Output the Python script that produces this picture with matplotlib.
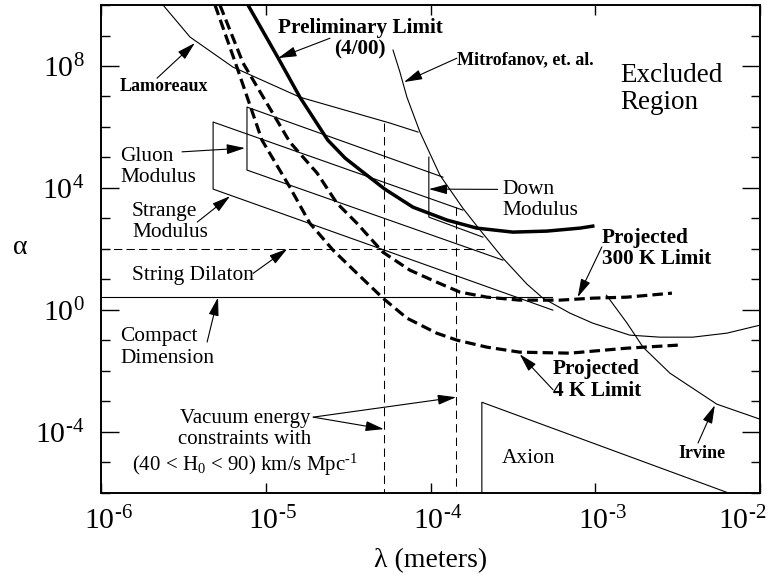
import matplotlib
matplotlib.use('Agg')
import matplotlib.pyplot as plt
from matplotlib.ticker import FixedLocator, NullFormatter, NullLocator
from matplotlib.transforms import ScaledTranslation

# wavelength lambda (m) and coupling alpha
lam_x = [2.38e-6, 3.47e-6, 6.32e-6, 1.61e-5, 5.68e-5, 8.4e-5]
lam_y = [1.0e10, 8.9e8, 9.2e7, 9.5e6, 1.34e6, 6.8e5]

mit_x = [5.92e-5, 6.52e-5, 7.19e-5, 8.63e-5, 1.14e-4, 1.57e-4, 2.0e-4, 2.75e-4,
         3.85e-4, 4.81e-4, 7.02e-4, 9.66e-4, 1.62e-3, 2.47e-3, 3.91e-3, 6.3e-3, 1.0e-2]
mit_y = [3.33e8, 6.32e7, 9.55e6, 6.8e5, 2.64e4, 2.18e3, 413, 49.8,
         6.97, 2.42, 0.78, 0.366, 0.148, 0.127, 0.127, 0.172, 0.315]

irv_x = [1.17e-3, 1.56e-3, 1.95e-3, 2.84e-3, 5.47e-3, 1.0e-2]
irv_y = [3.03, 0.366, 0.0597, 8.36e-3, 8.04e-4, 2.59e-4]

prelim_x = [7.8e-6, 1.19e-5, 1.61e-5, 2.38e-5, 3.03e-5, 3.89e-5, 5.28e-5, 7.82e-5,
            1.26e-4, 1.91e-4, 3.16e-4, 5.08e-4, 8.07e-4, 9.66e-4]
prelim_y = [1.0e10, 1.82e8, 9.57e6, 3.7e5, 9.53e4, 3.3e4, 9.14e3, 2.34e3,
            879, 480, 355, 383, 480, 558]

k4_x = [4.92e-6, 6.68e-6, 9.48e-6, 1.40e-5, 1.85e-5, 2.56e-5, 3.57e-5, 5.14e-5, 7.19e-5,
        1.09e-4, 1.45e-4, 2.2e-4, 3.48e-4, 7.02e-4, 9.66e-4, 1.56e-3, 3.17e-3]
k4_y = [1.0e10, 9.2e7, 3.7e5, 1.06e4, 700, 91, 16, 2.42, 0.535,
        0.172, 0.101, 0.0597, 0.0409, 0.0379, 0.0441, 0.0553, 0.0695]

k300_x = [5.27e-6, 7.28e-6, 1.40e-5, 2.05e-5, 2.7e-5, 3.57e-5, 5.14e-5, 7.5e-5,
          1.09e-4, 1.51e-4, 2.2e-4, 3.48e-4, 6.1e-4, 9.66e-4, 1.56e-3, 2.92e-3]
k300_y = [1.0e10, 1.25e8, 3.19e5, 3.06e4, 3.18e3, 700, 78, 20,
          8.1, 3.81, 2.61, 2.08, 2.08, 2.42, 2.61, 3.53]

# theory bands: top end -> top left -> bottom left -> bottom end
gluon_x = [1.19e-4, 7.69e-6, 7.69e-6, 2.75e-4]
gluon_y = [2.26e4, 4.49e6, 3.85e4, 42.8]
strange_x = [1.57e-4, 4.79e-6, 4.79e-6, 5.53e-4]
strange_y = [1.87e3, 1.45e6, 9.14e3, 0.977]
down_x = [9.77e-5, 9.77e-5, 2.08e-4]
down_y = [1.03e5, 1.1e3, 243]
axion_x = [2.05e-4, 2.05e-4, 6.38e-3]
axion_y = [1e-6, 9.3e-4, 1e-6]

dilaton_x = [1e-6, 2.23e-4]
dilaton_y = [100, 100]
compact_x = [1e-6, 5.5e-4]
compact_y = [2.55, 2.55]
vac_x = [5.21e-5, 1.43e-4]
vac_top = [1.34e6, 2.3e3]

# exponents drawn with a short hyphen, like the original
x_ticks = [1e-6, 1e-5, 1e-4, 1e-3, 1e-2]
x_tick_labels = ['$\\mathregular{10^{\u20106}}$', '$\\mathregular{10^{\u20105}}$',
                 '$\\mathregular{10^{\u20104}}$', '$\\mathregular{10^{\u20103}}$',
                 '$\\mathregular{10^{\u20102}}$']
y_ticks = [1e-4, 1e0, 1e4, 1e8]
y_tick_labels = ['$\\mathregular{10^{\u20104}}$', r'$\mathregular{10^{0}}$',
                 r'$\mathregular{10^{4}}$', r'$\mathregular{10^{8}}$']
y_minor = [10.0 ** e for e in range(-6, 11)]


def arrow(ax, head, tail):
    ax.annotate('', xy=head, xycoords='data', xytext=tail, textcoords='axes fraction',
                arrowprops=dict(arrowstyle='-|>,head_length=0.8,head_width=0.22',
                                color='k', lw=0.8, shrinkA=0, shrinkB=0, mutation_scale=14))


def main():
    plt.rcParams['font.family'] = ['Liberation Serif', 'DejaVu Serif']
    plt.rcParams['mathtext.fontset'] = 'custom'
    plt.rcParams['mathtext.rm'] = 'Liberation Serif'
    plt.rcParams['mathtext.it'] = 'Liberation Serif:italic'
    plt.rcParams['mathtext.bf'] = 'Liberation Serif:bold'

    fig = plt.figure(figsize=(7.7, 5.79), dpi=100)
    ax = fig.add_axes([0.1312, 0.149, 0.8558, 0.8423])
    ax.set_xscale('log')
    ax.set_yscale('log')

    thin = dict(color='k', lw=0.8)
    ax.plot(lam_x, lam_y, **thin)
    ax.plot(mit_x, mit_y, **thin)
    ax.plot(irv_x, irv_y, **thin)
    ax.plot(prelim_x, prelim_y, color='k', lw=2.5)
    ax.plot(k4_x, k4_y, color='k', lw=2.3, ls=(0, (3.3, 1.6)))
    ax.plot(k300_x, k300_y, color='k', lw=2.3, ls=(0, (3.3, 1.6)))

    ax.plot(gluon_x, gluon_y, **thin)
    ax.plot(strange_x, strange_y, **thin)
    ax.plot(down_x, down_y, **thin)
    ax.plot(axion_x, axion_y, **thin)
    ax.plot(compact_x, compact_y, **thin)
    ax.plot(dilaton_x, dilaton_y, color='k', lw=0.75, ls=(0, (8, 4)))
    for x, top in zip(vac_x, vac_top):
        ax.plot([x, x], [top, 1e-6], color='k', lw=0.75, ls=(0, (8, 5)))

    ax.set_xlim(1e-6, 1e-2)
    ax.set_ylim(1e-6, 1e10)

    # text labels
    tr = ax.transAxes
    ax.text(0.393, 0.931, 'Preliminary Limit\n(4/00)', transform=tr, fontsize=15.3,
            fontweight='bold', ha='center', va='center', multialignment='center', linespacing=1.15)
    ax.text(0.540, 0.887, 'Mitrofanov, et. al.', transform=tr, fontsize=13, fontweight='bold',
            ha='left', va='center')
    ax.text(0.029, 0.832, 'Lamoreaux', transform=tr, fontsize=13, fontweight='bold',
            ha='left', va='center')
    ax.text(0.788, 0.827, 'Excluded\nRegion', transform=tr, fontsize=19.5,
            ha='left', va='center', linespacing=1.1)
    ax.text(0.029, 0.668, 'Gluon\nModulus', transform=tr, fontsize=15.4,
            ha='left', va='center', linespacing=1.2)
    ax.text(0.047, 0.555, 'Strange\nModulus', transform=tr, fontsize=15.4,
            ha='left', va='center', linespacing=1.2)
    ax.text(0.047, 0.446, 'String Dilaton', transform=tr, fontsize=15.4, ha='left', va='center')
    ax.text(0.029, 0.297, 'Compact\nDimension', transform=tr, fontsize=15.4,
            ha='left', va='center', linespacing=1.2)
    ax.text(0.2185, 0.101,
            'Vacuum energy\nconstraints with\n'
            '(40 < H$_\\mathregular{0}$ < 90) km/s Mpc$^\\mathregular{\u20101}$',
            transform=tr, fontsize=15, ha='center', va='center', multialignment='center',
            linespacing=1.15)
    ax.text(0.6085, 0.600, 'Down\nModulus', transform=tr, fontsize=15.4,
            ha='left', va='center', linespacing=1.1)
    ax.text(0.760, 0.501, 'Projected\n300 K Limit', transform=tr, fontsize=15.3,
            fontweight='bold', ha='left', va='center', linespacing=1.1)
    ax.text(0.686, 0.231, 'Projected\n4 K Limit', transform=tr, fontsize=15.3,
            fontweight='bold', ha='left', va='center', linespacing=1.1)
    ax.text(0.6085, 0.071, 'Axion', transform=tr, fontsize=15.4, ha='left', va='center')
    ax.text(0.876, 0.081, 'Irvine', transform=tr, fontsize=13, fontweight='bold',
            ha='left', va='center')

    # arrows: head on the curve (data), tail at the label (axes fraction)
    arrow(ax, (3.71e-6, 5.66e8), (0.085, 0.850))
    arrow(ax, (1.19e-5, 1.82e8), (0.3475, 0.932))
    arrow(ax, (6.9e-5, 2.97e7), (0.540, 0.891))
    arrow(ax, (7.48e-6, 2.03e5), (0.123, 0.699))
    arrow(ax, (6.07e-6, 5.38e3), (0.146, 0.555))
    arrow(ax, (1.35e-5, 100), (0.231, 0.450))
    arrow(ax, (5.13e-6, 2.55), (0.161, 0.309))
    arrow(ax, (5.21e-5, 1.22e-4), (0.322, 0.155))
    arrow(ax, (1.43e-4, 1.36e-3), (0.322, 0.155))
    arrow(ax, (9.77e-5, 9.14e3), (0.602, 0.622))
    arrow(ax, (7.83e-4, 2.61), (0.760, 0.504))
    arrow(ax, (3.48e-4, 0.035), (0.686, 0.211))
    arrow(ax, (5.32e-3, 7.45e-4), (0.906, 0.102))

    # axes, ticks
    ax.set_xticks(x_ticks, labels=x_tick_labels)
    ax.xaxis.set_minor_locator(NullLocator())
    ax.set_yticks(y_ticks, labels=y_tick_labels)
    ax.yaxis.set_minor_locator(FixedLocator(y_minor))
    ax.yaxis.set_minor_formatter(NullFormatter())
    ax.tick_params(which='both', direction='in', top=True, right=True, width=1.0, labelsize=21.5)
    ax.tick_params(axis='x', which='major', length=7, pad=10)
    ax.tick_params(axis='y', which='major', length=13, pad=12)
    ax.tick_params(axis='y', which='minor', length=6.5)
    for s in ax.spines.values():
        s.set_linewidth(1.4)
    # base "10" sits centred on the tick, exponent hangs to the right;
    # the last one is pulled in so it stays inside the figure
    xlabels = ax.get_xticklabels()
    for lab in xlabels[:-1]:
        lab.set_transform(lab.get_transform() + ScaledTranslation(5 / 72, 0, fig.dpi_scale_trans))
    xlabels[-1].set_transform(xlabels[-1].get_transform()
                              + ScaledTranslation(-13 / 72, 0, fig.dpi_scale_trans))

    ax.set_xlabel('λ (meters)', fontsize=20)
    ax.xaxis.set_label_coords(0.5, -0.113)
    ax.set_ylabel('α', fontsize=20, rotation=0, ha='center', va='center')
    ax.yaxis.set_label_coords(-0.123, 0.502)

    fig.savefig('out.png', dpi=100)


if __name__ == "__main__":
    main()
